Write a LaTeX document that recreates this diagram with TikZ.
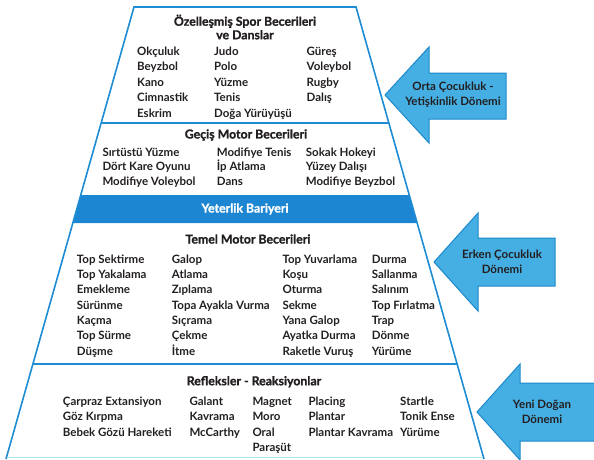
\documentclass[tikz,border=0pt]{standalone}
\usepackage{fontspec}
\setmainfont{Lato}
\newfontfamily\headfont{Lato Bold}[FakeBold=1.2]
\usetikzlibrary{positioning}
\definecolor{pyrblue}{HTML}{1E8CD3}
\definecolor{barblue}{HTML}{1C86D2}
\definecolor{arrowfill}{HTML}{45AEE3}
\definecolor{arrowline}{HTML}{1D88CC}
\definecolor{baseline}{HTML}{A9E3F6}
\definecolor{textdark}{HTML}{231F20}

\begin{document}
\begin{tikzpicture}[x=1pt, y=-1pt,
  item/.style={anchor=west, inner sep=0pt, text height=8pt, text depth=2.5pt, text=textdark, font=\fontsize{11.5}{13}\selectfont\bfseries},
  title/.style={inner sep=0pt, align=center, text=textdark, font=\fontsize{12.3}{13.5}\headfont},
  edge/.style={draw=pyrblue, line width=1.6pt},
  period/.style={fill=arrowfill, draw=arrowline, line width=1pt, line join=miter},
  periodtext/.style={align=center, inner sep=0pt, text=textdark, font=\fontsize{11.5}{15}\selectfont\bfseries}
]
  \useasboundingbox (0,0) rectangle (594,459);
  \clip (0,0) rectangle (594,459);

  % pyramid
  \coordinate (tl) at (134,7);
  \coordinate (tr) at (356,7);
  \coordinate (bl) at (6,459);
  \coordinate (br) at (484,459);
  \fill[barblue] (80.8,195) -- (409.2,195) -- (417.1,223) -- (72.9,223) -- cycle;
  \draw[edge] (bl) -- (tl) -- (tr) -- (br);
  \draw[edge] (101.2,123) -- (388.8,123);
  \draw[edge] (33.0,364) -- (457.0,364);
  \draw[draw=baseline, line width=1.6pt] (6.6,457.5) -- (483.4,457.5);

  % Ozellesmis
  \node[title] (ozel) at (245,27) {Özelleşmiş Spor Becerileri\\ve Danslar};
  \foreach \t [count=\i] in {Okçuluk,Beyzbol,Kano,Cimnastik,Eskrim}
    \node[item] (oz-a\i) at (137,{52.7+15.4*(\i-1)}) {\t};
  \foreach \t [count=\i] in {Judo,Polo,Yüzme,Tenis,Doğa Yürüyüşü}
    \node[item] (oz-b\i) at (214,{52.7+15.4*(\i-1)}) {\t};
  \foreach \t [count=\i] in {Güreş,Voleybol,Rugby,Dalış}
    \node[item] (oz-c\i) at (306.5,{52.7+15.4*(\i-1)}) {\t};

  % Gecis
  \node[title] (gecis) at (246,135) {Geçiş Motor Becerileri};
  \foreach \t [count=\i] in {Sırtüstü Yüzme,Dört Kare Oyunu,Modifiye Voleybol}
    \node[item] (ge-a\i) at (102.3,{153.3+14.7*(\i-1)}) {\t};
  \foreach \t [count=\i] in {Modifiye Tenis,İp Atlama,Dans}
    \node[item] (ge-b\i) at (216.7,{153.3+14.7*(\i-1)}) {\t};
  \foreach \t [count=\i] in {Sokak Hokeyi,Yüzey Dalışı,Modifiye Beyzbol}
    \node[item] (ge-c\i) at (305.7,{153.3+14.7*(\i-1)}) {\t};

  \node[title, text=white] (bariyer) at (245,209) {Yeterlik Bariyeri};

  % Temel
  \node[title] (temel) at (248,239) {Temel Motor Becerileri};
  \foreach \t [count=\i] in {Top Sektirme,Top Yakalama,Emekleme,Sürünme,Kaçma,Top Sürme,Düşme}
    \node[item] (te-a\i) at (76.7,{260.7+15.27*(\i-1)}) {\t};
  \foreach \t [count=\i] in {Galop,Atlama,Zıplama,Topa Ayakla Vurma,Sıçrama,Çekme,İtme}
    \node[item] (te-b\i) at (171.7,{260.7+15.27*(\i-1)}) {\t};
  \foreach \t [count=\i] in {Top Yuvarlama,Koşu,Oturma,Sekme,Yana Galop,Ayatka Durma,Raketle Vuruş}
    \node[item] (te-c\i) at (282.3,{260.7+15.27*(\i-1)}) {\t};
  \foreach \t [count=\i] in {Durma,Sallanma,Salınım,Top Fırlatma,Trap,Dönme,Yürüme}
    \node[item] (te-d\i) at (371.7,{260.7+15.27*(\i-1)}) {\t};

  % Refleksler
  \node[title] (refleks) at (254,381.7) {Refleksler - Reaksiyonlar};
  \foreach \t [count=\i] in {Çarpraz Extansiyon,Göz Kırpma,Bebek Gözü Hareketi}
    \node[item] (re-a\i) at (62.7,{402.3+15.6*(\i-1)}) {\t};
  \foreach \t [count=\i] in {Galant,Kavrama,McCarthy}
    \node[item] (re-b\i) at (189.3,{402.3+15.6*(\i-1)}) {\t};
  \foreach \t [count=\i] in {Magnet,Moro,Oral,Paraşüt}
    \node[item] (re-c\i) at (252.3,{402.3+15.6*(\i-1)}) {\t};
  \foreach \t [count=\i] in {Placing,Plantar,Plantar Kavrama}
    \node[item] (re-d\i) at (308.3,{402.3+15.6*(\i-1)}) {\t};
  \foreach \t [count=\i] in {Startle,Tonik Ense,Yürüme}
    \node[item] (re-e\i) at (400,{402.3+15.6*(\i-1)}) {\t};

  % period arrows
  \filldraw[period] (385,95) -- (429,47) -- (429,73) -- (506,73) -- (506,119) -- (429,119) -- (429,143) -- cycle;
  \node[periodtext] (orta) at (453,95) {Orta Çocukluk -\\Yetişkinlik Dönemi};
  \filldraw[period] (434,262) -- (478,213) -- (478,238) -- (555,238) -- (555,286) -- (478,286) -- (478,311) -- cycle;
  \node[periodtext] (erken) at (502,262) {Erken Çocukluk\\Dönemi};
  \filldraw[period] (477,412) -- (520,364) -- (520,383) -- (600,383) -- (600,441) -- (520,441) -- (520,460) -- cycle;
  \node[periodtext] (yeni) at (542,412) {Yeni Doğan\\Dönemi};
\end{tikzpicture}
\end{document}
